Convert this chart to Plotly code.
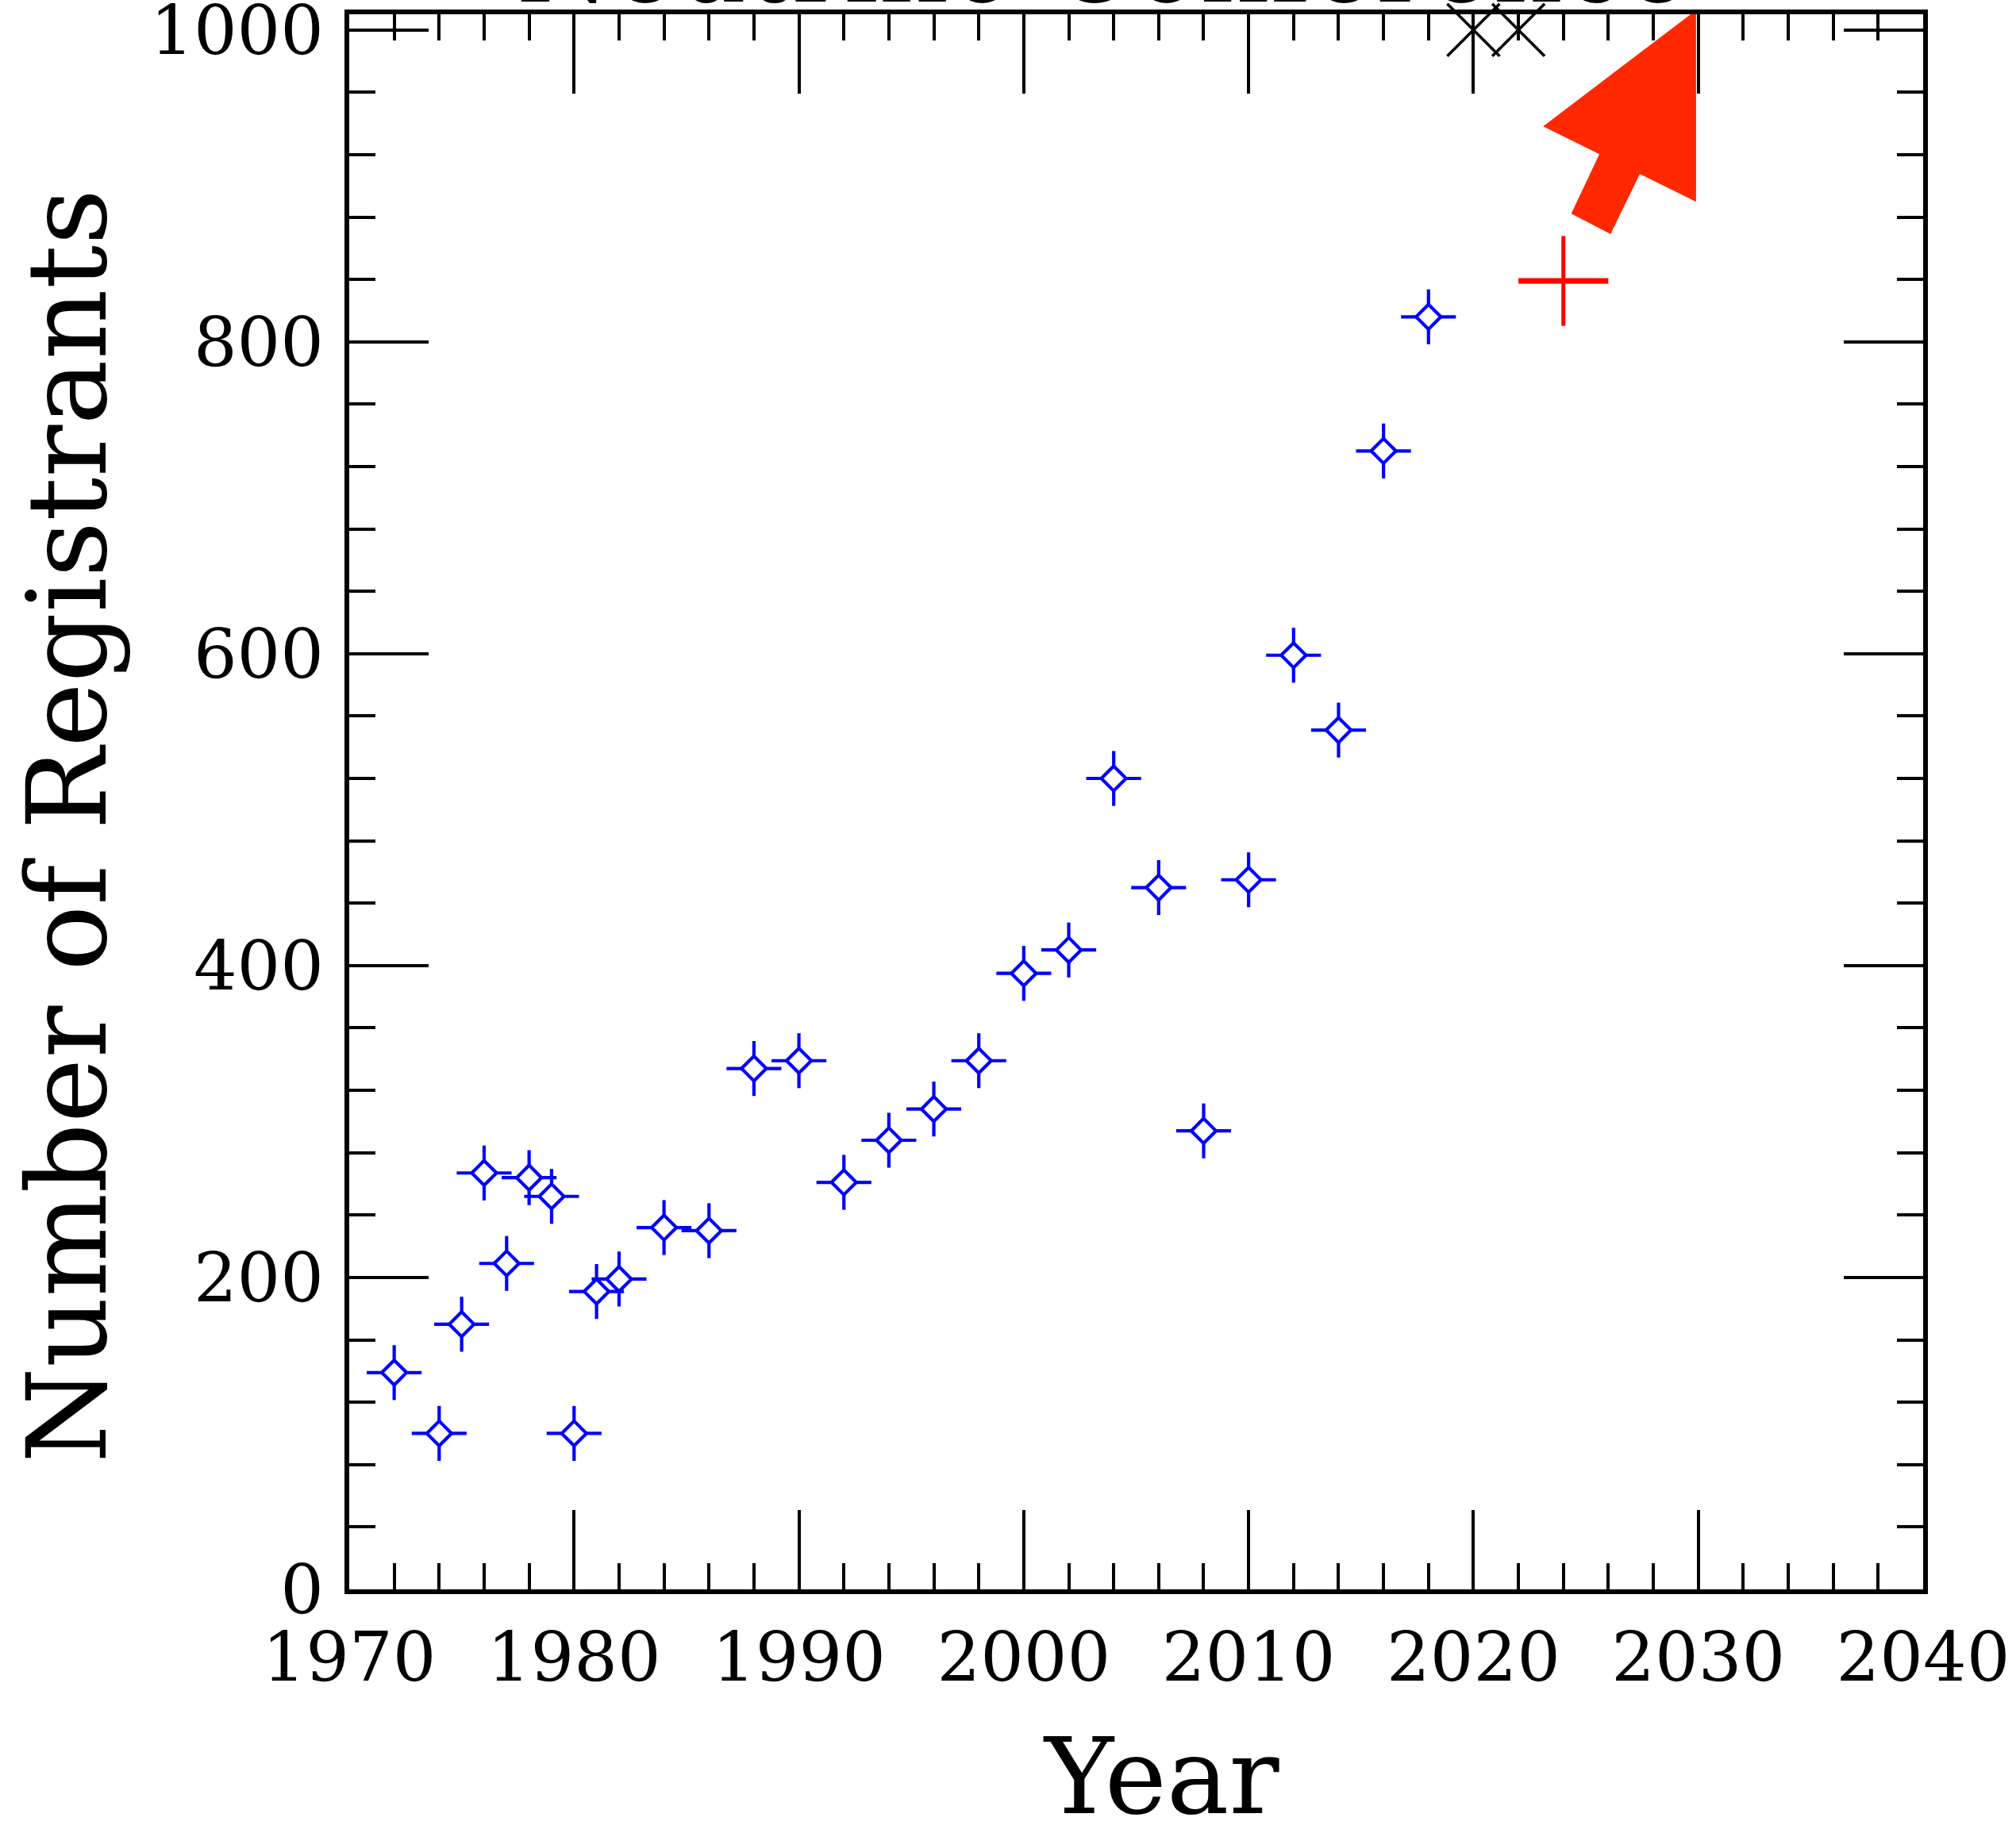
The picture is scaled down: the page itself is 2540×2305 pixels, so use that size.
import plotly.graph_objects as go

# ---- data ----
years = [1972, 1974, 1975, 1976, 1977, 1978, 1979, 1980, 1981, 1982, 1984, 1986,
         1988, 1990, 1992, 1994, 1996, 1998, 2000, 2002, 2004, 2006, 2008, 2010,
         2012, 2014, 2016, 2018]
registrants = [139, 100, 170, 267, 209, 264, 252, 100, 191, 199, 232, 230,
               334, 339, 261, 288, 308, 339, 395, 410, 520, 450, 294, 455,
               599, 551, 730, 816]
year_err = 1.22
reg_err = 17.6

estimate_year = [2024]
estimate_reg = [839]
estimate_year_err = 2.0
estimate_reg_err = 28.8

x_years = [2020, 2022]
x_vals = [1000, 1000]

# annotation arrow outline (year, registrants)
arrow_x = [2029.9, 2023.1, 2025.6, 2024.35, 2026.1, 2027.4, 2029.9, 2029.9]
arrow_y = [1012.6, 938.1, 920.3, 882.2, 869.1, 907.6, 889.8, 1012.6]

x_ticks = [1970, 1980, 1990, 2000, 2010, 2020, 2030, 2040]
y_ticks = [0, 200, 400, 600, 800, 1000]

FONT = "DejaVu Serif"
BLUE = "#0000FF"
LW = 4.2

fig = go.Figure()

# red arrow
fig.add_trace(go.Scatter(
    x=arrow_x, y=arrow_y, mode="lines", fill="toself",
    fillcolor="#FF2800", line=dict(width=0, color="#FF2800"),
    hoverinfo="skip", showlegend=False))

# blue data points with crosses
fig.add_trace(go.Scatter(
    x=years, y=registrants, mode="markers",
    marker=dict(symbol="diamond", size=24, color="white",
                line=dict(color=BLUE, width=LW)),
    error_x=dict(type="constant", value=year_err, color=BLUE, thickness=LW, width=0),
    error_y=dict(type="constant", value=reg_err, color=BLUE, thickness=LW, width=0),
    showlegend=False))

# red estimate cross
fig.add_trace(go.Scatter(
    x=estimate_year, y=estimate_reg, mode="markers",
    marker=dict(size=0, color="red"),
    error_x=dict(type="constant", value=estimate_year_err, color="red", thickness=7, width=0),
    error_y=dict(type="constant", value=estimate_reg_err, color="red", thickness=5, width=0),
    showlegend=False))

# black X markers
fig.add_trace(go.Scatter(
    x=x_years, y=x_vals, mode="markers", cliponaxis=False,
    marker=dict(symbol="x-thin", size=66, color="black",
                line=dict(color="black", width=3.6)),
    showlegend=False))

axis_common = dict(
    showline=True, linecolor="black", linewidth=5.5, mirror="ticks",
    ticks="inside", tickcolor="black", tickwidth=4, ticklen=100,
    showgrid=False, zeroline=False,
    tickfont=dict(family=FONT, size=86, color="black"),
    ticklabeloverflow="allow",
)

fig.update_xaxes(
    range=[1970, 2040], tickvals=x_ticks, ticktext=[str(v) for v in x_ticks],
    minor=dict(dtick=2, tick0=1970, ticks="inside", ticklen=33, tickwidth=4, tickcolor="black"),
    ticklabelstandoff=6,
    **axis_common)
fig.update_yaxes(
    range=[0, 1010], tickvals=y_ticks, ticktext=[str(v) for v in y_ticks],
    minor=dict(dtick=40, tick0=0, ticks="inside", ticklen=33, tickwidth=4, tickcolor="black"),
    ticklabelstandoff=9,
    **axis_common)

# axis titles
fig.add_annotation(
    text="Year", xref="paper", yref="paper",
    x=0.5159, xanchor="center", y=-0.1189, yanchor="middle",
    showarrow=False, font=dict(family=FONT, size=132, color="black"))
fig.add_annotation(
    text="Number of Registrants", xref="paper", yref="paper", textangle=-90,
    x=-0.179, xanchor="center", y=0.4846, yanchor="middle",
    showarrow=False, font=dict(family=FONT, size=138, color="black"))

# chart title (cut off at top in the original)
fig.add_annotation(
    text="Neutrino Conference", xref="paper", yref="paper",
    x=0.4786, xanchor="center", y=0.9905, yanchor="bottom",
    showarrow=False, font=dict(family=FONT, size=138, color="black"))

fig.update_layout(
    width=2540, height=2305,
    margin=dict(l=440, r=117, t=18, b=302, autoexpand=False),
    paper_bgcolor="white", plot_bgcolor="white",
    showlegend=False,
)

fig.write_html("out.html")
